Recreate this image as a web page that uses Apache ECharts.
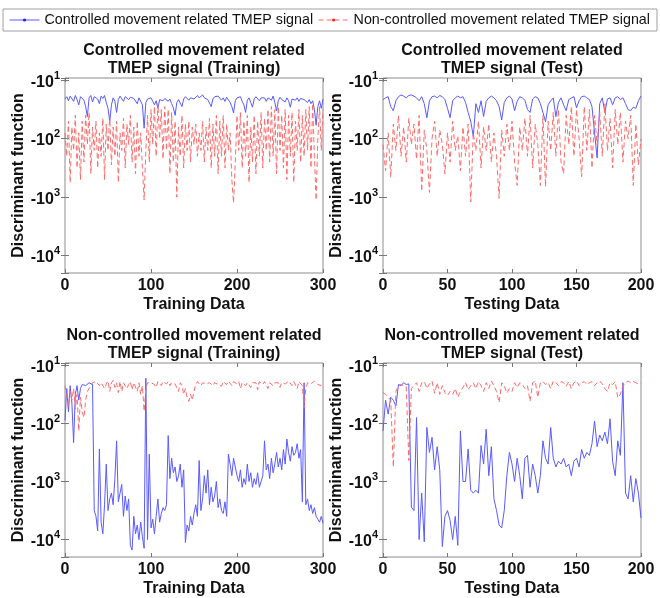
<!DOCTYPE html>
<html>
<head>
<meta charset="utf-8">
<script src="https://cdn.jsdelivr.net/npm/echarts@6.0.0/dist/echarts.min.js"></script>
<style>
  html, body { margin: 0; padding: 0; background: #fff; }
  #chart { width: 660px; height: 598px; }
</style>
</head>
<body>
<div id="chart"></div>
<script>
// values are log10 of |discriminant function|, one every `step` samples
const trainStep = 2
const testStep = 2

const topTrainCtrl = [
  1.32, 1.28, 1.35, 1.27, 1.3, 1.36, 1.26, 1.33, 1.42, 1.28,
  1.25, 1.34, 1.45, 1.62, 1.3, 1.26, 1.37, 1.28, 1.25, 1.32,
  1.4, 1.27, 1.31, 1.26, 1.38, 1.48, 1.71, 1.42, 1.3, 1.36,
  1.55, 1.33, 1.27, 1.3, 1.36, 1.28, 1.27, 1.33, 1.29, 1.26,
  1.31, 1.28, 1.4, 1.3, 1.27, 1.42, 1.82, 1.38, 1.32, 1.35,
  1.3, 1.36, 1.42, 1.35, 1.48, 1.33, 1.3, 1.35, 1.31, 1.3,
  1.36, 1.32, 1.4, 1.47, 1.6, 1.38, 1.33, 1.3, 1.45, 1.32,
  1.28, 1.3, 1.34, 1.3, 1.27, 1.32, 1.29, 1.26, 1.3, 1.27,
  1.25, 1.3, 1.28, 1.33, 1.3, 1.45, 1.32, 1.28, 1.31, 1.27,
  1.3, 1.34, 1.3, 1.36, 1.29, 1.32, 1.38, 1.45, 1.56, 1.35,
  1.3, 1.33, 1.28, 1.36, 1.42, 1.55, 1.34, 1.3, 1.38, 1.46,
  1.32, 1.28, 1.3, 1.35, 1.3, 1.27, 1.3, 1.36, 1.3, 1.28,
  1.34, 1.27, 1.38, 1.52, 1.35, 1.29, 1.33, 1.3, 1.37, 1.3,
  1.35, 1.46, 1.32, 1.29, 1.34, 1.3, 1.36, 1.31, 1.28, 1.33,
  1.3, 1.38, 1.33, 1.4, 1.35, 1.5, 1.77, 1.45, 1.35, 1.48,
  1.32
]
const topTrainNonCtrl = [
  1.9, 2.3, 1.7, 2.75, 1.8, 2.2, 1.6, 2.5, 1.9, 2.7,
  1.7, 2.4, 1.6, 2.1, 1.55, 2.6, 1.8, 2.2, 1.7, 2.5,
  1.9, 2.3, 1.65, 2.7, 1.75, 2.2, 1.6, 2.45, 1.8, 2.3,
  1.7, 2.75, 1.9, 2.2, 1.65, 2.5, 1.75, 2.1, 1.6, 2.4,
  1.8, 2.6, 1.7, 2.3, 1.9, 2.5, 3.05, 2.2, 1.6, 2.4,
  1.5, 2.1, 1.45, 2.3, 1.4, 2.0, 1.5, 2.35, 1.45, 2.2,
  1.5, 2.6, 1.55, 2.4, 1.7, 3.0, 1.8, 2.3, 1.6, 2.5,
  1.75, 2.2, 1.7, 2.4, 1.8, 2.1, 1.75, 2.3, 1.9, 2.2,
  1.7, 2.4, 1.8, 2.2, 1.65, 2.5, 1.75, 2.3, 1.6, 2.6,
  1.7, 2.3, 1.6, 2.5, 1.75, 2.2, 1.9, 2.7, 3.1, 2.4,
  1.6, 2.2, 1.55, 2.5, 1.7, 2.3, 1.6, 2.75, 1.8, 2.4,
  1.6, 2.6, 1.7, 2.3, 1.55, 2.5, 1.65, 2.2, 1.5, 2.4,
  1.45, 2.3, 1.5, 2.6, 1.45, 2.2, 1.6, 2.5, 1.5, 2.7,
  1.6, 2.3, 1.55, 2.75, 1.7, 2.2, 1.5, 2.4, 1.6, 2.3,
  1.5, 2.2, 1.45, 2.5, 1.4, 2.3, 3.05, 2.0, 1.45, 2.2,
  1.5
]

const topTestCtrl = [
  1.33, 1.3, 1.28, 1.45, 1.52, 1.35, 1.28, 1.25, 1.27, 1.3,
  1.26, 1.25, 1.27, 1.3, 1.35, 1.28, 1.4, 1.64, 1.35, 1.28,
  1.27, 1.3, 1.26, 1.28, 1.33, 1.48, 1.64, 1.35, 1.3, 1.27,
  1.3, 1.28, 1.38, 1.55, 1.7, 1.96, 1.4, 1.55, 1.35, 1.62,
  1.36, 1.3, 1.27, 1.3, 1.35, 1.45, 1.68, 1.38, 1.3, 1.27,
  1.32, 1.52, 1.36, 1.28, 1.3, 1.34, 1.5, 1.55, 1.32, 1.28,
  1.3, 1.4, 1.55, 1.71, 1.42, 1.35, 1.3, 1.62, 1.38, 1.3,
  1.42, 1.52, 1.33, 1.3, 1.28, 1.47, 1.35, 1.28, 1.27, 1.3,
  1.33, 1.45, 1.9, 2.33, 1.4, 1.3, 1.55, 1.32, 1.3, 1.42,
  1.3, 1.28, 1.33, 1.3, 1.4, 1.5, 1.52, 1.46, 1.48, 1.35,
  1.27
]
const topTestNonCtrl = [
  2.1, 2.55, 1.9, 2.66, 1.75, 2.2, 1.6, 2.3, 1.8, 2.4,
  1.65, 2.1, 1.75, 2.35, 1.6, 2.9, 1.85, 2.2, 2.92, 2.0,
  1.7, 2.3, 1.85, 2.1, 2.6, 1.9, 2.4, 1.7, 2.2, 1.95,
  2.55, 1.8, 2.3, 1.75, 3.08, 1.9, 2.2, 1.7, 2.5, 1.8,
  2.2, 1.75, 2.4, 1.9, 2.3, 3.02, 1.85, 2.3, 1.75, 2.2,
  1.7, 2.4, 2.8, 1.8, 2.2, 1.65, 2.3, 1.6, 2.5, 1.75,
  2.1, 2.8, 1.6, 2.82, 1.7, 2.2, 1.55, 2.3, 1.5, 2.4,
  2.6, 1.6, 2.1, 1.45, 2.3, 1.5, 2.0, 2.65, 1.45, 2.2,
  1.5, 2.5, 1.6, 2.1, 1.55, 2.3, 1.4, 2.2, 1.65, 2.5,
  1.5, 2.1, 1.55, 2.4, 1.7, 2.0, 1.6, 2.8, 1.75, 2.45,
  2.0
]

const botTrainCtrl = [
  1.95, 1.4, 1.8, 1.35, 1.65, 2.33, 1.5, 1.35, 1.6, 1.4,
  1.33, 1.3, 1.35, 1.32, 1.3, 1.3, 1.33, 3.5, 3.6, 3.85,
  2.44, 3.7, 3.9, 3.4, 2.7, 3.5, 3.3, 3.2, 3.4, 2.95,
  2.3, 3.35, 3.2, 3.05, 3.6, 3.25, 3.5, 3.3, 4.1, 4.18,
  3.6, 3.9, 3.75, 4.0, 3.7, 3.95, 4.15, 1.22, 4.0, 2.53,
  3.8, 3.65, 3.9, 3.6, 3.3, 3.7, 3.55, 3.45, 3.5, 3.4,
  2.21, 2.95, 2.6, 2.85, 2.75, 3.0, 2.9, 2.7, 3.1, 2.8,
  4.05, 3.75, 3.85, 3.6, 3.75, 3.55, 3.4, 3.6, 2.64, 3.5,
  3.3, 2.9, 3.2, 2.8, 3.4, 3.1, 3.35, 3.25, 3.0, 3.45,
  3.3, 3.5, 3.55, 3.35, 3.6, 2.53, 2.7, 2.9, 2.6, 2.75,
  2.9, 3.0, 2.8, 3.1, 2.95, 3.05, 2.7, 3.0, 2.85, 3.1,
  2.95, 3.05, 2.85, 3.1, 3.0, 2.9, 2.3, 2.8, 2.7, 2.95,
  2.6, 2.85, 2.7, 2.5, 2.75, 2.6, 2.8, 2.45, 2.7, 2.27,
  2.5, 2.65, 2.4, 2.55, 2.5, 2.35, 2.6, 2.45, 3.35, 1.3,
  3.4, 3.3, 3.5, 3.4, 3.55, 3.45, 3.6, 3.65, 3.7, 3.6,
  3.72
]
const botTrainNonCtrl = [
  1.35, 1.5, 1.7, 1.45, 1.6, 1.4, 1.75, 1.5, 2.13, 1.55,
  1.8, 1.9, 1.6, 1.45, 1.4, 1.35, 1.3, 1.33, 1.28, 1.3,
  1.35, 1.3, 1.28, 1.4, 1.32, 1.27, 1.45, 1.3, 1.26, 1.38,
  1.3, 1.47, 1.28, 1.45, 1.3, 1.27, 1.4, 1.33, 1.28, 1.42,
  1.3, 1.28, 1.45, 1.3, 1.5, 1.35, 1.79, 1.4, 1.3, 1.28,
  1.3, 1.27, 1.33, 1.38, 1.28, 1.3, 1.35, 1.28, 1.27, 1.32,
  1.28, 1.35, 1.3, 1.27, 1.32, 1.3, 1.45, 1.3, 1.35, 1.5,
  1.4, 1.55, 1.62, 1.5, 1.6, 1.45, 1.33, 1.28, 1.3, 1.35,
  1.3, 1.27, 1.32, 1.29, 1.3, 1.27, 1.35, 1.3, 1.28, 1.33,
  1.3, 1.36, 1.28, 1.3, 1.33, 1.27, 1.3, 1.35, 1.28, 1.3,
  1.32, 1.28, 1.4, 1.3, 1.27, 1.35, 1.3, 1.28, 1.38, 1.3,
  1.27, 1.3, 1.42, 1.28, 1.3, 1.33, 1.28, 1.3, 1.4, 1.3,
  1.28, 1.35, 1.3, 1.27, 1.3, 1.38, 1.3, 1.28, 1.32, 1.3,
  1.27, 1.3, 1.35, 1.28, 1.3, 1.4, 1.28, 1.3, 1.35, 1.73,
  1.4, 1.3, 1.28, 1.32, 1.3, 1.27, 1.3, 1.33, 1.3, 1.35,
  1.33
]

const botTestCtrl = [
  2.13, 1.6, 1.84, 1.55, 1.6, 1.7, 1.33, 1.35, 1.3, 1.33,
  1.32, 3.44, 3.5, 1.9, 4.0, 3.2, 4.04, 2.07, 2.5, 2.24,
  2.8, 2.4, 2.8, 4.12, 3.6, 3.5, 3.67, 4.0, 3.6, 4.1,
  2.13, 3.0, 3.0, 2.44, 3.15, 3.2, 3.15, 3.2, 2.38, 2.7,
  2.1, 2.9, 2.4, 3.3, 3.5, 3.75, 3.8, 3.5, 2.9, 2.5,
  2.7, 3.0, 2.6, 2.9, 3.3, 2.6, 2.55, 3.1, 2.7, 2.9,
  3.2, 2.9, 2.3, 2.6, 2.7, 2.07, 2.6, 2.75, 2.65, 2.7,
  2.6, 2.75, 2.7, 2.9, 2.65, 2.6, 2.75, 2.45, 2.6, 2.5,
  2.55, 2.35, 1.96, 2.4, 2.2, 2.3, 2.15, 2.35, 1.92, 2.65,
  2.9, 2.3, 2.55, 1.3, 3.2, 3.3, 2.9, 3.35, 2.95, 3.2,
  3.63
]
const botTestNonCtrl = [
  1.47, 1.5, 1.55, 1.6, 2.75, 1.45, 1.35, 1.33, 1.35, 1.36,
  2.64, 1.4, 1.35, 1.3, 1.45, 1.3, 1.28, 1.4, 1.32, 1.27,
  1.48, 1.3, 1.5, 1.35, 1.47, 1.52, 1.45, 1.5, 1.4, 1.55,
  1.45, 1.38, 1.3, 1.42, 1.35, 1.3, 1.4, 1.28, 1.35, 1.45,
  1.3, 1.4, 1.27, 1.35, 1.45, 1.64, 1.3, 1.35, 1.48, 1.4,
  1.45, 1.3, 1.38, 1.3, 1.33, 1.4, 1.35, 1.62, 1.3, 1.27,
  1.55, 1.3, 1.28, 1.33, 1.3, 1.4, 1.27, 1.3, 1.35, 1.28,
  1.3, 1.36, 1.28, 1.4, 1.3, 1.27, 1.35, 1.3, 1.28, 1.33,
  1.3, 1.28, 1.35, 1.3, 1.27, 1.32, 1.4, 1.45, 1.3, 1.33,
  1.28, 1.56, 1.5, 1.35, 1.3, 1.27, 1.3, 1.28, 1.3, 1.32,
  1.3
]

const ctrlName = 'Controlled movement related TMEP signal'
const nonCtrlName = 'Non-controlled movement related TMEP signal'
const yTitle = 'Discriminant function'

const font = 'Liberation Sans, Arial, sans-serif'
const yMin = Math.pow(10, 0.96)
const yMax = Math.pow(10, 4.3)

const panels = [
  { title: 'Controlled movement related\nTMEP signal (Training)', xName: 'Training Data', xMax: 300, xInt: 100,
    step: trainStep, ctrl: topTrainCtrl, non: topTrainNonCtrl, box: { left: 65, top: 78, width: 258, height: 195 } },
  { title: 'Controlled movement related\nTMEP signal (Test)', xName: 'Testing Data', xMax: 200, xInt: 50,
    step: testStep, ctrl: topTestCtrl, non: topTestNonCtrl, box: { left: 383, top: 78, width: 258, height: 195 } },
  { title: 'Non-controlled movement related\nTMEP signal (Training)', xName: 'Training Data', xMax: 300, xInt: 100,
    step: trainStep, ctrl: botTrainCtrl, non: botTrainNonCtrl, box: { left: 65, top: 363, width: 258, height: 196 } },
  { title: 'Non-controlled movement related\nTMEP signal (Test)', xName: 'Testing Data', xMax: 200, xInt: 50,
    step: testStep, ctrl: botTestCtrl, non: botTestNonCtrl, box: { left: 383, top: 363, width: 258, height: 196 } }
]

const bold16 = { fontFamily: font, fontSize: 16, fontWeight: 'bold', color: '#111' }
const tickStyle = { inside: true, length: 4, lineStyle: { color: '#777' } }

function yLabel(v) {
  const e = Math.log10(v)
  if (Math.abs(e - Math.round(e)) > 1e-6) return ''
  return '{b|-10}{s|' + Math.round(e) + '}'
}

const toPoints = (arr, step) => arr.map((e, i) => [i * step, Math.pow(10, e)])

const xAxes = []
const yAxes = []
const series = []
panels.forEach((p, i) => {
  xAxes.push({
    gridIndex: i, type: 'value', min: 0, max: p.xMax, interval: p.xInt, position: 'bottom',
    name: p.xName, nameLocation: 'middle', nameGap: 24, nameTextStyle: bold16,
    axisLine: { show: false }, axisTick: tickStyle, splitLine: { show: false },
    axisLabel: Object.assign({ margin: 5 }, bold16)
  })
  xAxes.push({
    gridIndex: i, type: 'value', min: 0, max: p.xMax, interval: p.xInt, position: 'top',
    axisLine: { show: false }, axisTick: tickStyle, splitLine: { show: false }, axisLabel: { show: false }
  })
  yAxes.push({
    gridIndex: i, type: 'log', logBase: 10, inverse: true, min: yMin, max: yMax, position: 'left',
    name: yTitle, nameLocation: 'middle', nameGap: 32, nameTextStyle: bold16,
    axisLine: { show: false }, axisTick: tickStyle, splitLine: { show: false },
    axisLabel: {
      margin: 5, formatter: yLabel,
      rich: {
        b: Object.assign({ verticalAlign: 'bottom' }, bold16),
        s: { fontFamily: font, fontSize: 11, fontWeight: 'bold', color: '#111', verticalAlign: 'bottom', padding: [0, 0, 9, 0] }
      }
    }
  })
  yAxes.push({
    gridIndex: i, type: 'log', logBase: 10, inverse: true, min: yMin, max: yMax, position: 'right',
    axisLine: { show: false }, axisTick: tickStyle, splitLine: { show: false }, axisLabel: { show: false }
  })
  series.push({
    name: ctrlName, type: 'line', xAxisIndex: 2 * i, yAxisIndex: 2 * i,
    data: toPoints(p.ctrl, p.step), symbol: 'circle', showSymbol: false,
    lineStyle: { color: '#5a5aff', width: 1 }, itemStyle: { color: '#2020ff' }
  })
  series.push({
    name: nonCtrlName, type: 'line', xAxisIndex: 2 * i, yAxisIndex: 2 * i,
    data: toPoints(p.non, p.step), symbol: 'circle', showSymbol: false,
    lineStyle: { color: '#ff6a6a', width: 1, type: [5, 3] }, itemStyle: { color: '#ff2020' }
  })
})

const chart = echarts.init(document.getElementById('chart'))
chart.setOption({
  animation: false,
  backgroundColor: '#fff',
  title: panels.map(p => ({
    text: p.title, left: p.box.left + p.box.width / 2, top: p.box.top - 36, padding: 0,
    textAlign: 'center', textStyle: Object.assign({ lineHeight: 18 }, bold16)
  })),
  legend: {
    left: 3, top: 9, width: 700, padding: [4, 7, 4, 6], itemGap: 5, itemWidth: 30, itemHeight: 4,
    borderColor: '#a0a0a0', borderWidth: 1, backgroundColor: '#fff',
    lineStyle: { width: 1 },
    textStyle: { fontFamily: font, fontSize: 14.3, color: '#111' },
    data: [ctrlName, nonCtrlName]
  },
  grid: panels.map(p => Object.assign({ show: true, borderColor: '#8c8c8c', borderWidth: 1 }, p.box)),
  xAxis: xAxes,
  yAxis: yAxes,
  series: series
})
</script>
</body>
</html>
